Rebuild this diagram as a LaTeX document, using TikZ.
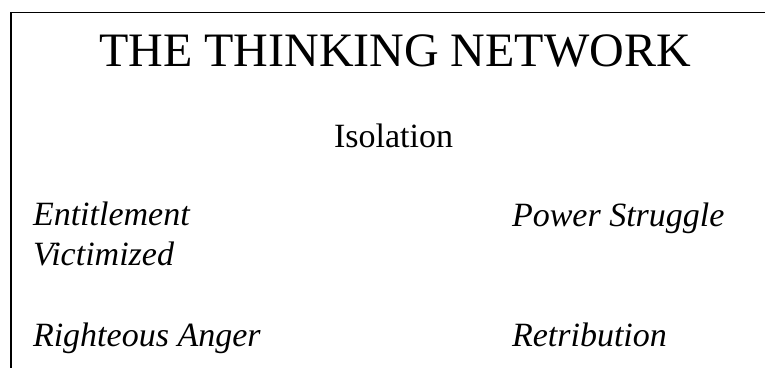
\documentclass[tikz,border=0pt]{standalone}
\usepackage{fontspec}
\setmainfont{Liberation Serif}
\tikzset{
  lbl/.style={inner sep=0pt, outer sep=0pt, font=\fontsize{34}{39}\selectfont},
  itl/.style={lbl, font=\fontsize{34}{39}\selectfont\itshape, anchor=base west},
  ttl/.style={inner sep=0pt, outer sep=0pt, font=\fontsize{48}{56}\selectfont, anchor=base},
  frame/.style={line width=1.3pt, line cap=rect}
}
\begin{document}
\begin{tikzpicture}[x=1pt,y=1pt]
\useasboundingbox (0,0) rectangle (765,-367);
\draw[frame] (766,-12.3) -- (11,-12.3) -- (11,-368);
\node[ttl] (title) at (395,-66) {THE THINKING NETWORK};
\node[lbl, anchor=base] (iso) at (393.5,-147) {Isolation};
\node[itl] (ent) at (33,-225) {Entitlement};
\node[itl] (vic) at (33,-265) {Victimized};
\node[itl] (pow) at (512,-226) {Power Struggle};
\node[itl] (rig) at (33,-346.5) {Righteous Anger};
\node[itl] (ret) at (512,-346.5) {Retribution};
\end{tikzpicture}
\end{document}
